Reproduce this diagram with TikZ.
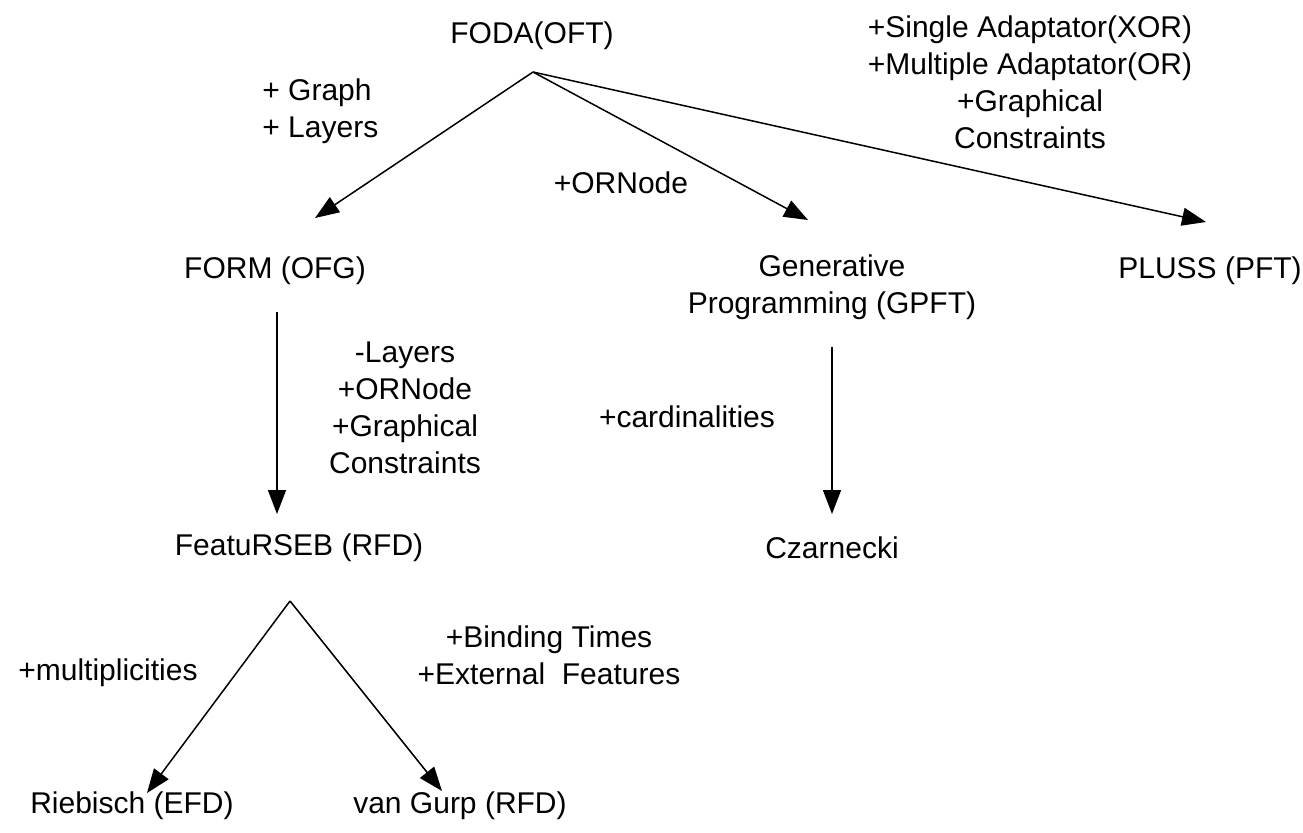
\documentclass[tikz,border=0pt]{standalone}
\usepackage{fontspec}
\setmainfont{Liberation Sans}
\usetikzlibrary{arrows.meta}
\begin{document}
\begin{tikzpicture}[x=0.5pt,y=-0.5pt,
  lbl/.style={inner sep=0pt, font=\fontsize{15}{18.5}\selectfont, align=center},
  conn/.style={line width=0.75pt, -{Triangle[length=12pt,width=9pt]}}]
\useasboundingbox (0,0) rectangle (1303,832);

% feature model notations
\node[lbl] (foda) at (532,36) {FODA(OFT)};
\node[lbl] (form) at (275,271) {FORM (OFG)};
\node[lbl] (gpft) at (832,287) {Generative\\Programming (GPFT)};
\node[lbl] (pluss) at (1210,271) {PLUSS (PFT)};
\node[lbl] (rseb) at (299,548) {FeatuRSEB (RFD)};
\node[lbl] (czar) at (832,548) {Czarnecki};
\node[lbl] (rieb) at (132,806) {Riebisch (EFD)};
\node[lbl] (gurp) at (460,806) {van Gurp (RFD)};

% connector end points
\coordinate (fodaA) at (533,72);
\coordinate (formT) at (315,218);
\coordinate (gpftT) at (808,220);
\coordinate (plussT) at (1206,222);
\coordinate (formB) at (277,312);
\coordinate (rsebT) at (277,514);
\coordinate (gpftB) at (832,347);
\coordinate (czarT) at (832,514);
\coordinate (rsebA) at (290,601);
\coordinate (riebT) at (147,793);
\coordinate (gurpT) at (442,791);

\draw[conn] (fodaA) -- (formT);
\draw[conn] (fodaA) -- (gpftT);
\draw[conn] (fodaA) -- (plussT);
\draw[conn] (formB) -- (rsebT);
\draw[conn] (gpftB) -- (czarT);
\draw[conn] (rsebA) -- (riebT);
\draw[conn] (rsebA) -- (gurpT);

% extension labels
\node[lbl, align=left, anchor=west] (l1) at (262,111) {+ Graph\\+ Layers};
\node[lbl] (l2) at (621,183) {+ORNode};
\node[lbl] (l3) at (1030,82) {+Single Adaptator(XOR)\\+Multiple Adaptator(OR)\\+Graphical\\Constraints};
\node[lbl] (l4) at (405,408) {-Layers\\+ORNode\\+Graphical\\Constraints};
\node[lbl] (l5) at (687,417) {+cardinalities};
\node[lbl] (l6) at (108,673) {+multiplicities};
\node[lbl] (l7) at (549,655) {+Binding Times\\+External\ \ Features};
\end{tikzpicture}
\end{document}
